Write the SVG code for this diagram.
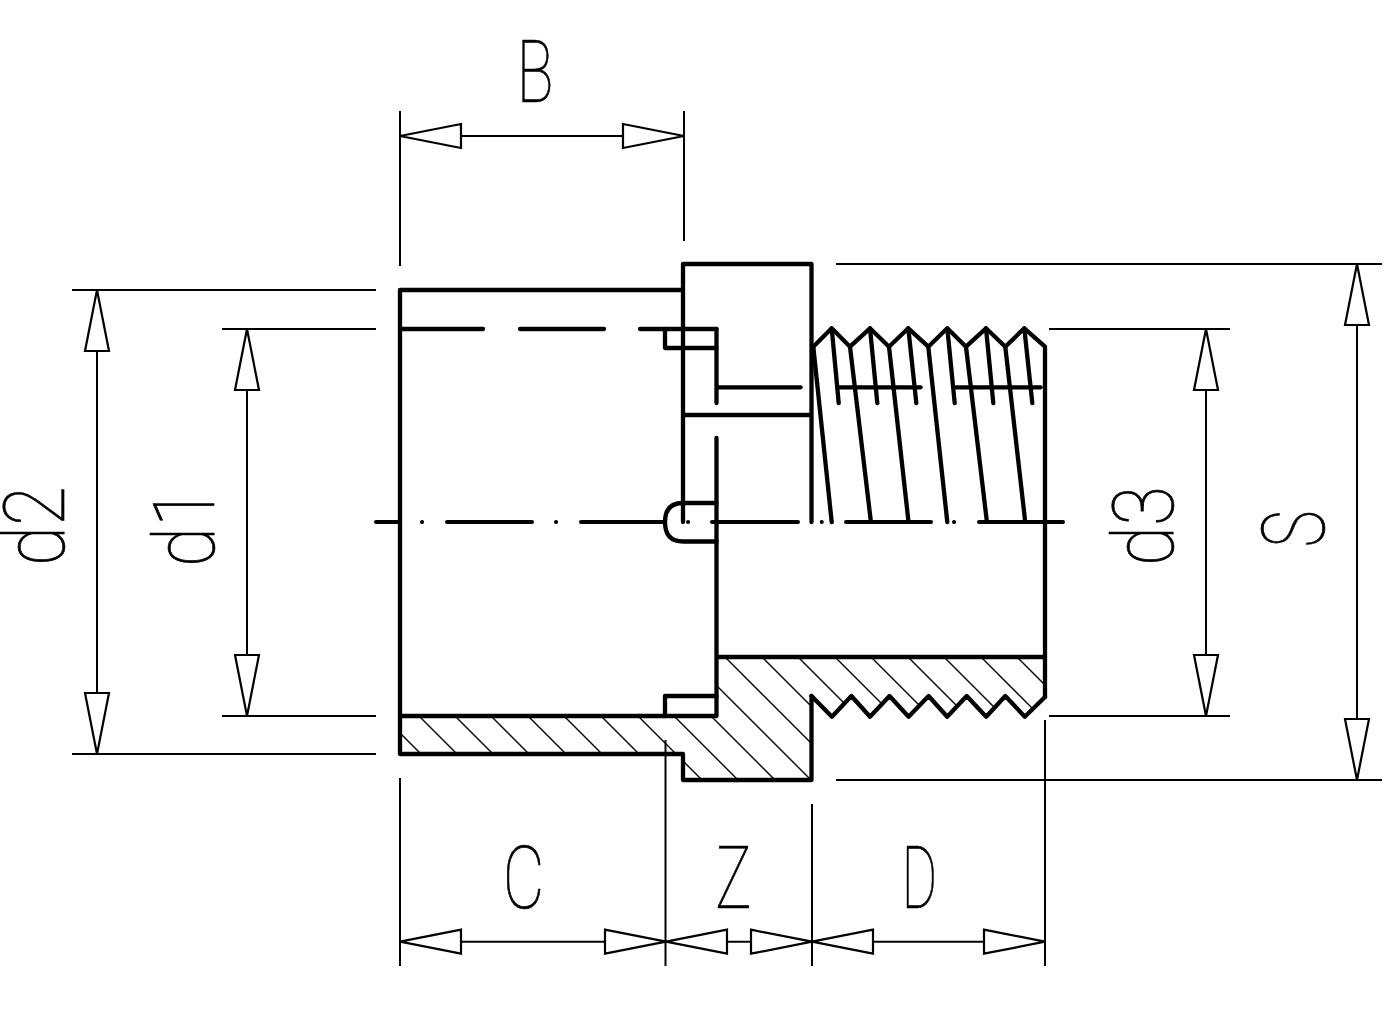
<svg xmlns="http://www.w3.org/2000/svg" width="1399" height="1023" viewBox="0 0 1399 1023">
<style>
.k{fill:none;stroke:#000;stroke-width:4.300;stroke-linejoin:round;stroke-linecap:round}
.c{fill:none;stroke:#000;stroke-width:4;stroke-linecap:round}
.h{fill:none;stroke:#000;stroke-width:1.400}
.d{fill:none;stroke:#000;stroke-width:2}
.a{fill:#fff;stroke:#000;stroke-width:2.200}
text{font-family:Roboto,"Liberation Sans",sans-serif;font-weight:100;font-size:87px;fill:#000;stroke:#000;stroke-width:.7;text-anchor:middle}
</style>
<defs>
<clipPath id="sec"><path d="M400 716H716V657H1045V697L1024.800 716.700L1005.300 696L986.200 716.700L966.700 696L947.200 716.700L928.600 696L908.600 716.700L889.500 696L870 716.700L851.400 696L831.900 716.700L811.500 696V780H683V754H400Z"/></clipPath>
<path id="al" class="a" d="M0 0L61 -12V12Z"/>
</defs>
<rect width="1399" height="1023" fill="#fff"/>
<g id="hatching" clip-path="url(#sec)">
<path class="h" d="M267 600L467 800M303 600L503 800M339 600L539 800M375 600L575 800M412 600L612 800M448 600L648 800M485 600L685 800M522 600L722 800M558 600L758 800M595 600L795 800M631 600L831 800M668 600L868 800M705 600L905 800M741 600L941 800M778 600L978 800M814 600L1014 800M851 600L1051 800M887 600L1087 800M924 600L1124 800M960 600L1160 800"/>
</g>
<g id="fitting-body">
<path class="k" d="M400 522V290H683M683 522V264H811.500V522M683 415H811.500"/>
<path class="k" d="M400 522V754H683V780H811.500V696M400 716H716.500V438M716.500 329V403M718 657H1045"/>
<path class="k" d="M665 329V348H716.500M665 716V696H716.500M716.500 503H683Q665 503 665 522Q665 541.500 683 541.500H716.500"/>
<path class="k" d="M400 329H483M520 329H604M640 329H716.500M718 387.300H800.700M838.700 387.300H920.700M956 387.300H1040.700"/>
</g>
<g id="thread">
<path class="k" d="M813.300 346.700L831.700 328.300L850 346.700L870 328.300L889 346.700L908.300 328.300L928.300 346.700L947.300 328.300L966 346.700L986 328.300L1005.300 346.700L1024.300 328.300L1045 346.700V697"/>
<path class="k" d="M811.500 696L831.900 716.700L851.400 696L870 716.700L889.500 696L908.600 716.700L928.600 696L947.200 716.700L966.700 696L986.200 716.700L1005.300 696L1024.800 716.700L1045 697"/>
<path class="k" d="M831.700 328.300L838.700 403M870 328.300L877.300 403M908.300 328.300L916.300 403M947.300 328.300L954.700 403M986 328.300L993.300 403M1024.300 328.300L1032.300 403"/>
<path class="k" d="M813.300 346.700L831.700 522M850 346.700L870.700 520M889 346.700L908.300 520M928.300 346.700L947.300 522M966 346.700L986.700 520M1005.300 346.700L1025 520"/>
</g>
<g id="centre-line">
<path class="c" d="M376 522H398M447 522H532M581 522H665M712 522H798M846 522H931M979 522H1063"/>
<path class="c" stroke-width="3" d="M422 522h.1M556 522h.1M688 522h.1M821.700 522h.1M954 522h.1"/>
</g>
<g id="connectors">
<path class="d" d="M400 111V266M684 111V241M400 136H684M400 778V966M665.500 740V966M812 804V966M1045 720V966M400 941.700H1045"/>
<path class="d" d="M72 290H376M72 754H376M222 329H376M222 716H376M1049 329H1230M1049 716H1230M836 264H1382M836 780H1382"/>
<path class="d" d="M97 290V754M247 329V716M1206 329V716M1357 264V780"/>
<use href="#al" transform="translate(400 136)"/>
<use href="#al" transform="translate(684 136) rotate(180)"/>
<use href="#al" transform="translate(400 941.700)"/>
<use href="#al" transform="translate(666 941.700) rotate(180)"/>
<use href="#al" transform="translate(666 941.700)"/>
<use href="#al" transform="translate(812 941.700) rotate(180)"/>
<use href="#al" transform="translate(812 941.700)"/>
<use href="#al" transform="translate(1045 941.700) rotate(180)"/>
<use href="#al" transform="translate(97 290) rotate(90)"/>
<use href="#al" transform="translate(97 754) rotate(-90)"/>
<use href="#al" transform="translate(247 329) rotate(90)"/>
<use href="#al" transform="translate(247 716) rotate(-90)"/>
<use href="#al" transform="translate(1206 329) rotate(90)"/>
<use href="#al" transform="translate(1206 716) rotate(-90)"/>
<use href="#al" transform="translate(1357 264) rotate(90)"/>
<use href="#al" transform="translate(1357 780) rotate(-90)"/>
</g>
<g id="label-B"><text transform="translate(535 102) scale(.7 1)">B</text></g>
<g id="label-C"><text transform="translate(523.500 908) scale(.74 1)">C</text></g>
<g id="label-Z"><text transform="translate(733.500 908) scale(.7 1)">Z</text></g>
<g id="label-D"><text transform="translate(919.500 908) scale(.62 1)">D</text></g>
<g id="label-d2"><text transform="translate(63.500 526) rotate(-90) scale(.84 .97)">d2</text></g>
<g id="label-d1"><text transform="translate(213.500 527) rotate(-90) scale(.84 .97)">d1</text></g>
<g id="label-d3"><text transform="translate(1172.500 526) rotate(-90) scale(.84 .97)">d3</text></g>
<g id="label-S"><text transform="translate(1324 529) rotate(-90) scale(.72 1)">S</text></g>
</svg>
